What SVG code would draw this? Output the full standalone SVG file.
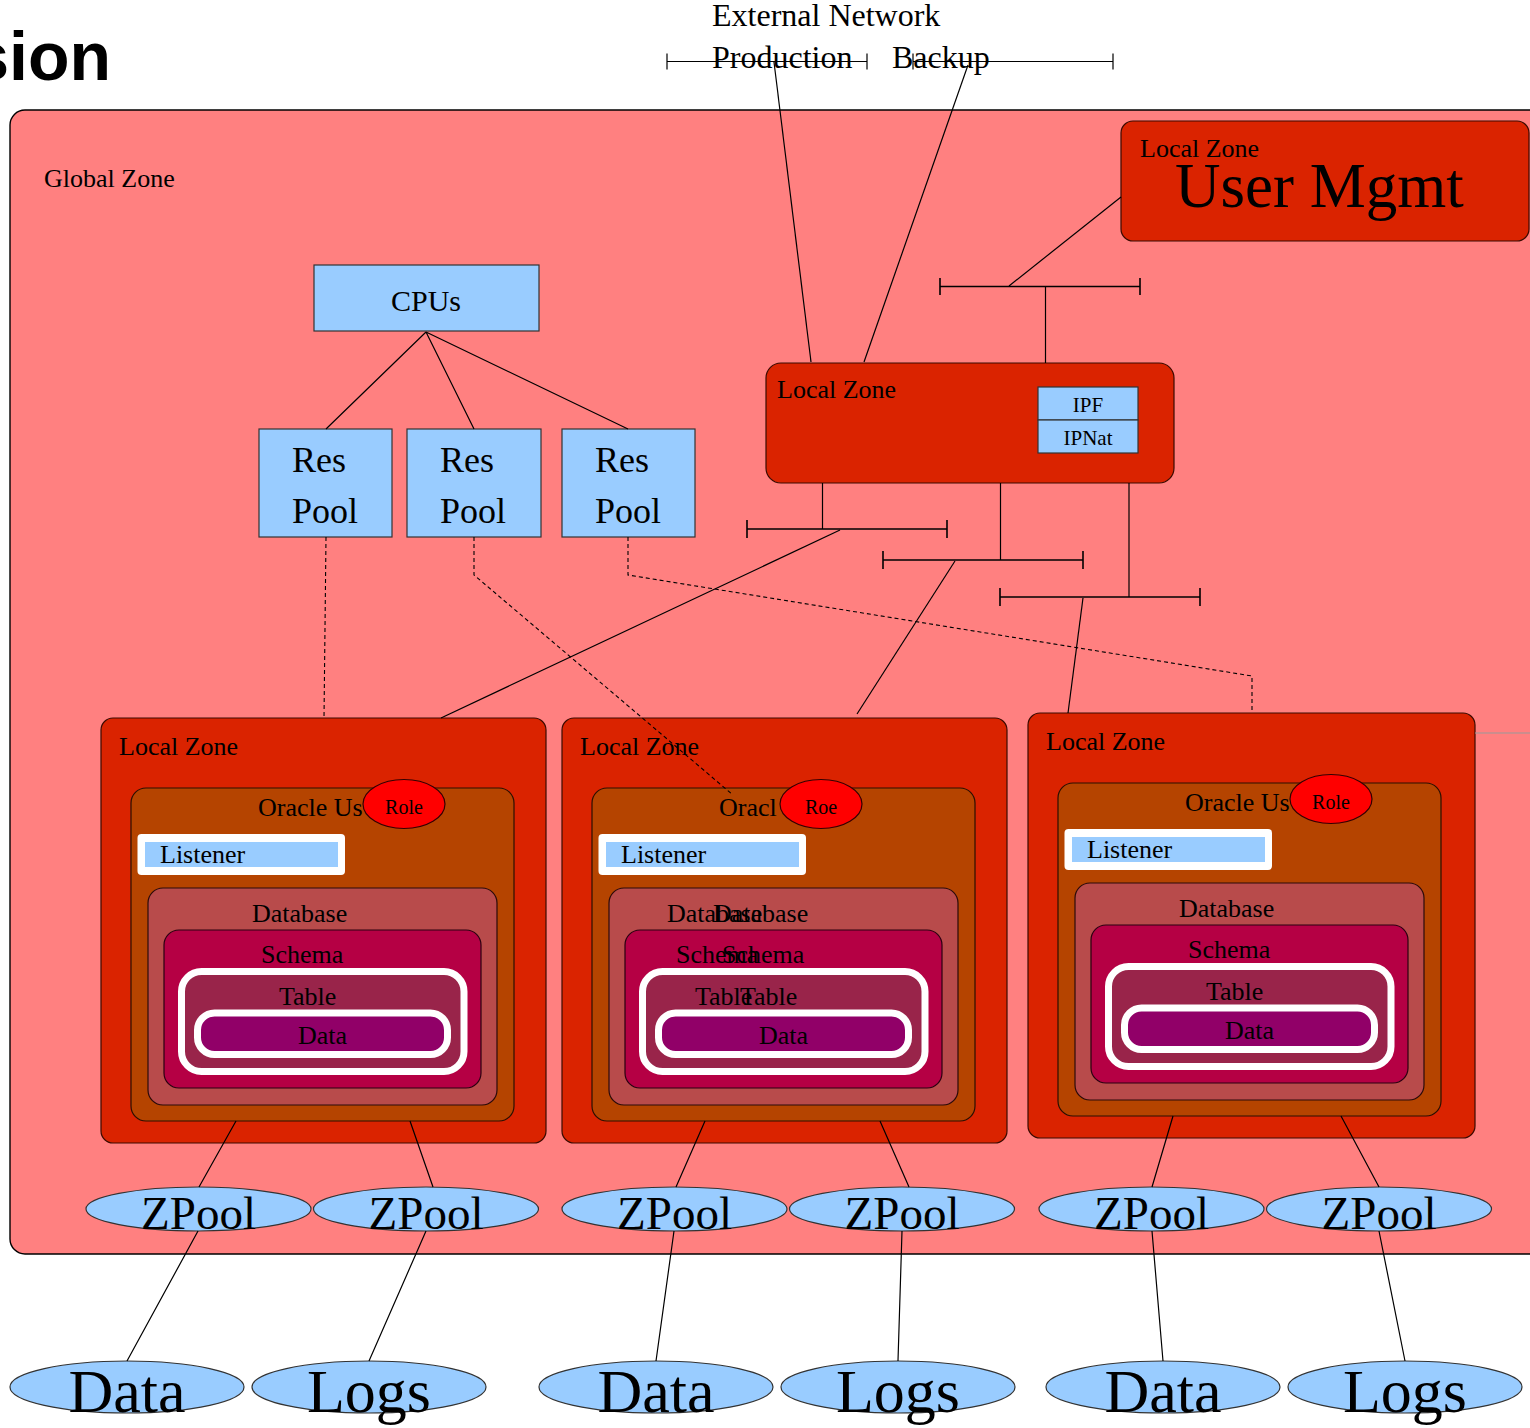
<svg xmlns="http://www.w3.org/2000/svg" width="1530" height="1428" viewBox="0 0 1530 1428">
  <style>
    .serif { font-family: "Liberation Serif", "Times New Roman", serif; fill: #000; }
    .t26 { font-size: 26px; }
    .zone { fill: #DA2300; stroke: #3a0a00; stroke-width: 1.2; }
    .blue { fill: #99CCFF; stroke: #333; stroke-width: 1.2; }
    .orauser { fill: #B54400; stroke: #2a1000; stroke-width: 1.2; }
    .db { fill: #B84B4B; stroke: #2a0a0a; stroke-width: 1.2; }
    .schema { fill: #B50044; stroke: #2a0010; stroke-width: 1.2; }
    .table { fill: #99244A; stroke: #fff; stroke-width: 7; }
    .data { fill: #910068; stroke: #fff; stroke-width: 7; }
    .role { fill: #FF0000; stroke: #300; stroke-width: 1.2; }
    .conn { stroke: #000; stroke-width: 1.2; fill: none; }
    .bus { stroke: #000; stroke-width: 1.6; fill: none; }
    .dash { stroke: #000; stroke-width: 1.1; fill: none; stroke-dasharray: 4 3; }
  </style>
  <defs>
    <!-- one Oracle user stack inside a local zone, in local-zone coordinates -->
    <g id="oracleStack">
      <rect class="orauser" x="131" y="788" width="383" height="333" rx="15"/>
      <text class="serif t26" x="258" y="816">Oracle Us</text>
      <rect x="137.5" y="834" width="207.5" height="41" rx="4" fill="#fff"/>
      <rect x="145" y="842" width="193" height="25" fill="#99CCFF"/>
      <text class="serif t26" x="160" y="863">Listener</text>
      <rect class="db" x="148" y="888" width="349" height="217" rx="15"/>
      <text class="serif t26" x="252" y="922">Database</text>
      <rect class="schema" x="164" y="930" width="317" height="158" rx="15"/>
      <text class="serif t26" x="261" y="963">Schema</text>
      <rect class="table" x="181.5" y="971.5" width="282.5" height="100" rx="20"/>
      <text class="serif t26" x="279" y="1005">Table</text>
      <rect class="data" x="197.5" y="1013" width="250" height="41.5" rx="17"/>
      <text class="serif t26" x="298" y="1044">Data</text>
    </g>
  </defs>

  <!-- page heading -->
  <text x="111" y="80" text-anchor="end" font-family="Liberation Sans, Arial, sans-serif" font-weight="bold" font-size="68">sion</text>

  <!-- global zone -->
  <g id="global-zone">
    <rect x="10" y="110" width="1560" height="1144" rx="15" fill="#FF8080" stroke="#000" stroke-width="1.4"/>
    <text class="serif t26" x="44" y="187">Global Zone</text>
  </g>

  <!-- external networks -->
  <g id="external-network">
    <text class="serif" font-size="32" x="712" y="26">External Network</text>
    <text class="serif" font-size="32" x="712" y="68">Production</text>
    <text class="serif" font-size="32" x="892" y="68">Backup</text>
  </g>

  <!-- CPUs and resource pools -->
  <g id="cpus">
    <rect class="blue" x="314" y="265" width="225" height="66"/>
    <text class="serif" font-size="30" x="426" y="311" text-anchor="middle">CPUs</text>
  </g>
  <g id="respool-1">
    <rect class="blue" x="259" y="429" width="133" height="108"/>
    <text class="serif" font-size="36" x="292" y="472">Res</text>
    <text class="serif" font-size="36" x="292" y="523">Pool</text>
  </g>
  <g id="respool-2">
    <rect class="blue" x="407" y="429" width="134" height="108"/>
    <text class="serif" font-size="36" x="440" y="472">Res</text>
    <text class="serif" font-size="36" x="440" y="523">Pool</text>
  </g>
  <g id="respool-3">
    <rect class="blue" x="562" y="429" width="133" height="108"/>
    <text class="serif" font-size="36" x="595" y="472">Res</text>
    <text class="serif" font-size="36" x="595" y="523">Pool</text>
  </g>

  <!-- user management zone -->
  <g id="zone-usermgmt">
    <rect class="zone" x="1121" y="121" width="408" height="120" rx="12"/>
    <text class="serif t26" x="1140" y="157">Local Zone</text>
    <text class="serif" font-size="63" x="1175" y="207">User Mgmt</text>
  </g>

  <!-- network zone with IP filter / NAT -->
  <g id="zone-network">
    <rect class="zone" x="766" y="363" width="408" height="120" rx="15"/>
    <text class="serif t26" x="777" y="398">Local Zone</text>
    <rect class="blue" x="1038" y="387" width="100" height="33"/>
    <text class="serif" font-size="21" x="1088" y="412" text-anchor="middle">IPF</text>
    <rect class="blue" x="1038" y="420" width="100" height="33"/>
    <text class="serif" font-size="21" x="1088" y="445" text-anchor="middle">IPNat</text>
  </g>

  <!-- database zones -->
  <g id="zone-db-1">
    <rect class="zone" x="101" y="718" width="445" height="425" rx="12"/>
    <text class="serif t26" x="119" y="755">Local Zone</text>
    <use href="#oracleStack"/>
    <ellipse class="role" cx="404" cy="804" rx="41" ry="24.5"/>
    <text class="serif" font-size="20" x="404" y="814" text-anchor="middle">Role</text>
  </g>
  <g id="zone-db-2" transform="translate(461,0)">
    <rect class="zone" x="101" y="718" width="445" height="425" rx="12"/>
    <text class="serif t26" x="119" y="755">Local Zone</text>
    <rect class="orauser" x="131" y="788" width="383" height="333" rx="15"/>
    <text class="serif t26" x="258" y="816">Oracl</text>
    <rect x="137.5" y="834" width="207.5" height="41" rx="4" fill="#fff"/>
    <rect x="145" y="842" width="193" height="25" fill="#99CCFF"/>
    <text class="serif t26" x="160" y="863">Listener</text>
    <rect class="db" x="148" y="888" width="349" height="217" rx="15"/>
    <text class="serif t26" x="206" y="922">Database</text>
    <text class="serif t26" x="252" y="922">Database</text>
    <rect class="schema" x="164" y="930" width="317" height="158" rx="15"/>
    <text class="serif t26" x="215" y="963">Schema</text>
    <text class="serif t26" x="261" y="963">Schema</text>
    <rect class="table" x="181.5" y="971.5" width="282.5" height="100" rx="20"/>
    <text class="serif t26" x="234" y="1005">Table</text>
    <text class="serif t26" x="279" y="1005">Table</text>
    <rect class="data" x="197.5" y="1013" width="250" height="41.5" rx="17"/>
    <text class="serif t26" x="298" y="1044">Data</text>
    <ellipse class="role" cx="360" cy="804" rx="41" ry="24.5"/>
    <text class="serif" font-size="20" x="360" y="814" text-anchor="middle">Roe</text>
  </g>
  <g id="zone-db-3" transform="translate(927,-5)">
    <rect class="zone" x="101" y="718" width="447" height="425" rx="12"/>
    <text class="serif t26" x="119" y="755">Local Zone</text>
    <use href="#oracleStack"/>
    <ellipse class="role" cx="404" cy="804" rx="41" ry="24.5"/>
    <text class="serif" font-size="20" x="404" y="814" text-anchor="middle">Role</text>
  </g>

  <!-- storage pools -->
  <g id="zpools" class="serif">
    <g id="zpool-1"><ellipse class="blue" cx="198.5" cy="1209" rx="112.5" ry="22"/><text font-size="47" x="198.5" y="1229" text-anchor="middle">ZPool</text></g>
    <g id="zpool-2"><ellipse class="blue" cx="426" cy="1209" rx="112.5" ry="22"/><text font-size="47" x="426" y="1229" text-anchor="middle">ZPool</text></g>
    <g id="zpool-3"><ellipse class="blue" cx="674.5" cy="1209" rx="112.5" ry="22"/><text font-size="47" x="674.5" y="1229" text-anchor="middle">ZPool</text></g>
    <g id="zpool-4"><ellipse class="blue" cx="902" cy="1209" rx="112.5" ry="22"/><text font-size="47" x="902" y="1229" text-anchor="middle">ZPool</text></g>
    <g id="zpool-5"><ellipse class="blue" cx="1151.5" cy="1209" rx="112.5" ry="22"/><text font-size="47" x="1151.5" y="1229" text-anchor="middle">ZPool</text></g>
    <g id="zpool-6"><ellipse class="blue" cx="1379" cy="1209" rx="112.5" ry="22"/><text font-size="47" x="1379" y="1229" text-anchor="middle">ZPool</text></g>
  </g>

  <!-- disks -->
  <g id="disks" class="serif">
    <g id="disk-data-1"><ellipse class="blue" cx="127" cy="1387" rx="117" ry="26"/><text font-size="62" x="127" y="1412" text-anchor="middle">Data</text></g>
    <g id="disk-logs-1"><ellipse class="blue" cx="369" cy="1387" rx="117" ry="26"/><text font-size="62" x="369" y="1412" text-anchor="middle">Logs</text></g>
    <g id="disk-data-2"><ellipse class="blue" cx="656" cy="1387" rx="117" ry="26"/><text font-size="62" x="656" y="1412" text-anchor="middle">Data</text></g>
    <g id="disk-logs-2"><ellipse class="blue" cx="898" cy="1387" rx="117" ry="26"/><text font-size="62" x="898" y="1412" text-anchor="middle">Logs</text></g>
    <g id="disk-data-3"><ellipse class="blue" cx="1163" cy="1387" rx="117" ry="26"/><text font-size="62" x="1163" y="1412" text-anchor="middle">Data</text></g>
    <g id="disk-logs-3"><ellipse class="blue" cx="1405" cy="1387" rx="117" ry="26"/><text font-size="62" x="1405" y="1412" text-anchor="middle">Logs</text></g>
  </g>

  <!-- connectors -->
  <g id="connectors">
    <!-- external buses -->
    <path class="conn" d="M667 61.5H867M667 53.5V69.5M867 53.5V69.5"/>
    <path class="conn" d="M913 61.5H1113M913 53.5V69.5M1113 53.5V69.5"/>
    <path class="conn" d="M774 62L811 362"/>
    <path class="conn" d="M968 65L864 362"/>
    <!-- management bus -->
    <path class="bus" d="M940 286.5H1140M940 278V295M1140 278V295"/>
    <path class="conn" d="M1121 197L1009 286"/>
    <path class="conn" d="M1045.5 286V363"/>
    <!-- internal buses -->
    <path class="conn" d="M822.5 483V529"/>
    <path class="bus" stroke-width="2.2" d="M747 529H947M747 520V538M947 520V538"/>
    <path class="conn" d="M1000.5 483V560"/>
    <path class="bus" d="M883 560H1083M883 551V569M1083 551V569"/>
    <path class="conn" d="M1129 483V597"/>
    <path class="bus" d="M1000 597H1200M1000 588V606M1200 588V606"/>
    <path class="conn" d="M840 530L441 718"/>
    <path class="conn" d="M955 561L857 714"/>
    <path class="conn" d="M1083 598L1068 713"/>
    <!-- CPU to pools -->
    <path class="conn" d="M426 332L326 429M426 332L474 429M426 332L628 429"/>
    <!-- pool bindings -->
    <path class="dash" d="M326 537L324 718"/>
    <path class="dash" d="M474 537V575L733 795"/>
    <path class="dash" d="M628 537V575L1252 676V712"/>
    <path stroke="#999" stroke-width="1" d="M1475 733H1530"/>
    <!-- zones to pools -->
    <path class="conn" d="M236 1121L199 1187M410 1121L433 1187"/>
    <path class="conn" d="M705 1121L676 1187M880 1121L909 1187"/>
    <path class="conn" d="M1173 1116L1152 1187M1341 1116L1379 1187"/>
    <!-- pools to disks -->
    <path class="conn" d="M198 1231L127 1361M426 1231L369 1361"/>
    <path class="conn" d="M674 1231L656 1361M902 1231L898 1361"/>
    <path class="conn" d="M1152 1231L1163 1361M1379 1231L1405 1361"/>
  </g>
</svg>
